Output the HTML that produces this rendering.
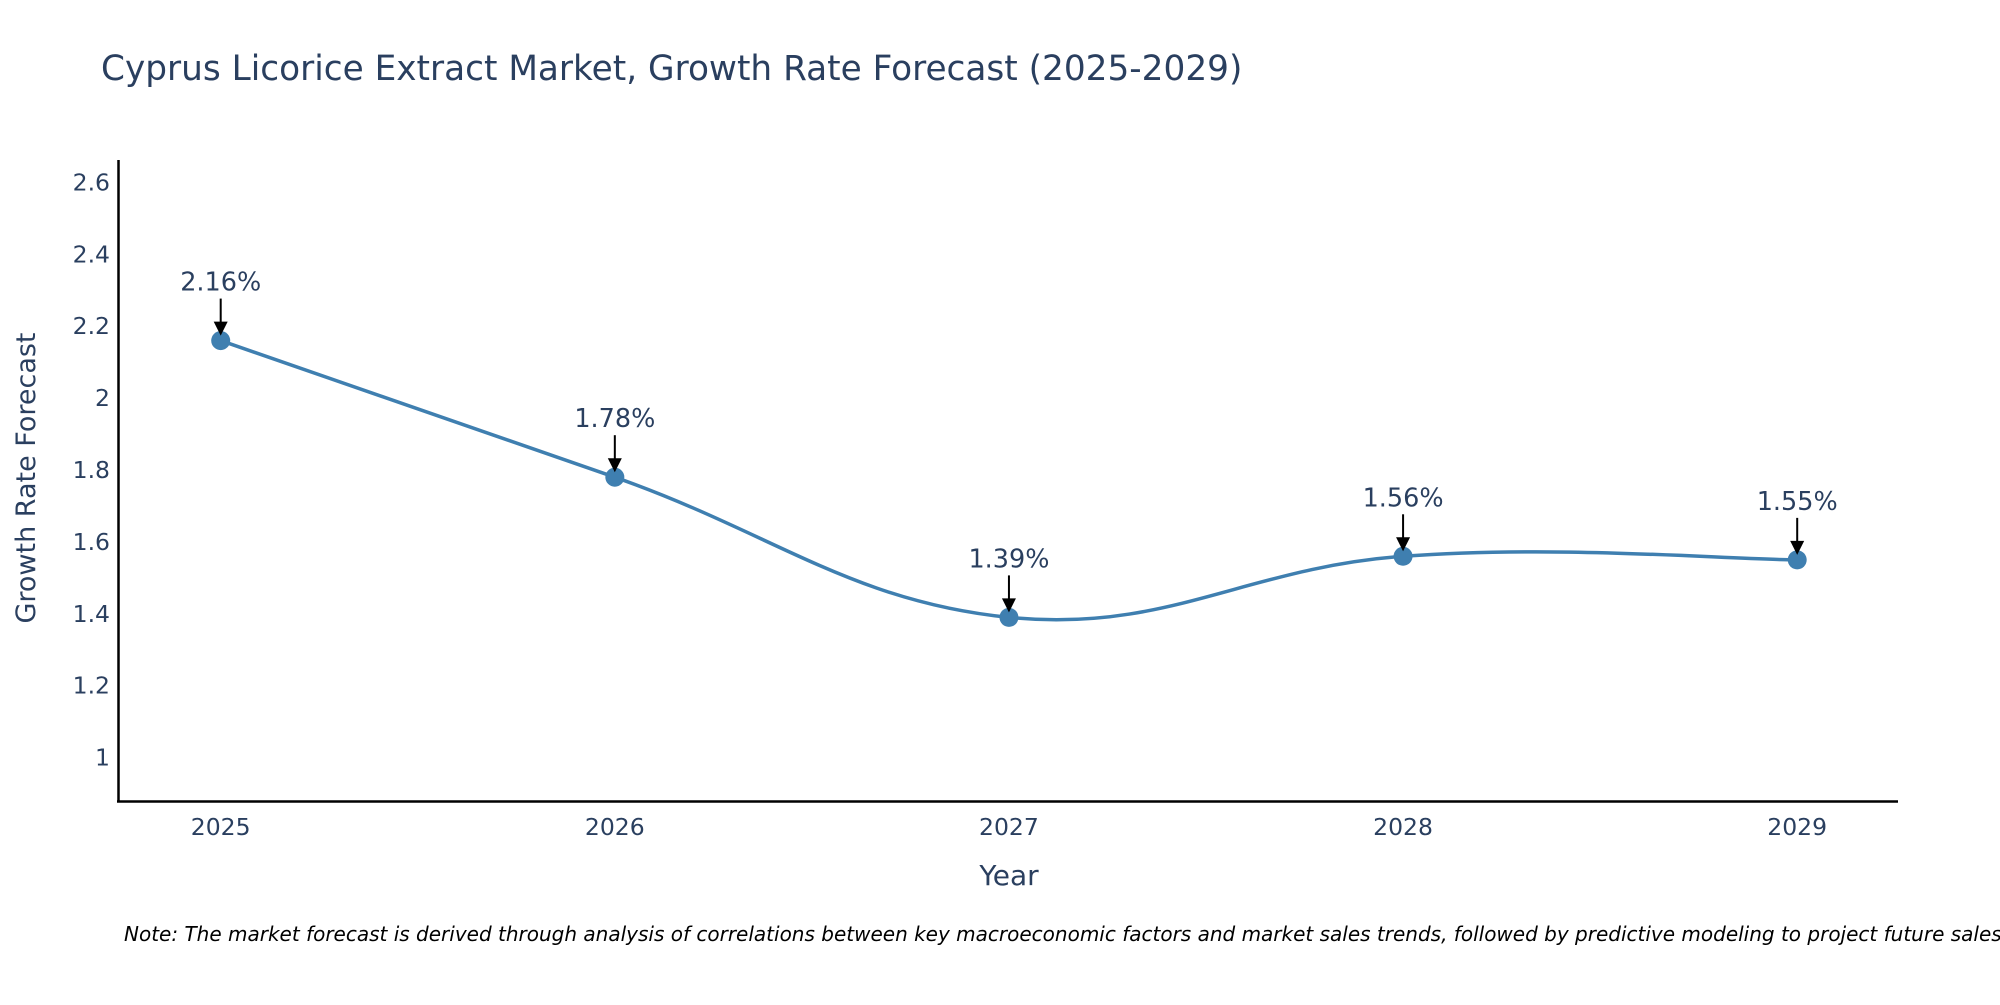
<!DOCTYPE html>
<html><head><meta charset="utf-8"><style>
body{margin:0;background:#fff;}
svg{font-family:"DejaVu Sans","Liberation Sans",sans-serif;}
</style></head><body>
<svg id="chart" width="2000" height="1000" viewBox="0 0 2000 1000">
<text x="101" y="80" font-size="34.3" fill="#2a3f5f">Cyprus Licorice Extract Market, Growth Rate Forecast (2025-2029)</text>
<g id="yticks"></g>
<g id="xticks"></g>
<line x1="118.5" y1="160" x2="118.5" y2="802" stroke="#000" stroke-width="2.5"/>
<line x1="117" y1="801.5" x2="1898" y2="801.5" stroke="#000" stroke-width="2.5"/>
<g id="series"></g>
<g id="annots"></g>
<text x="1009" y="885" font-size="28" fill="#2a3f5f" text-anchor="middle">Year</text>
<text transform="translate(35,478) rotate(-90)" font-size="27" fill="#2a3f5f" text-anchor="middle">Growth Rate Forecast</text>
<text x="124" y="941" font-size="20" font-style="italic" fill="#000">Note: The market forecast is derived through analysis of correlations between key macroeconomic factors and market sales trends, followed by predictive modeling to project future sales.</text>
</svg>
<script>
const years = ["2025","2026","2027","2028","2029"];
const growth = [2.16, 1.78, 1.39, 1.56, 1.55];
const yTicks = [1, 1.2, 1.4, 1.6, 1.8, 2, 2.2, 2.4, 2.6];
const yTickLabels = ["1","1.2","1.4","1.6","1.8","2","2.2","2.4","2.6"];

const NS="http://www.w3.org/2000/svg";
function xS(i){return 220.7 + i*(1797.2-220.7)/4;}
function yS(v){return 757.6 - (v-1)*(757.6-182.4)/1.6;}
function mk(tag,attrs,parent){const e=document.createElementNS(NS,tag);for(const k in attrs)e.setAttribute(k,attrs[k]);parent.appendChild(e);return e;}

const yt=document.getElementById('yticks');
yTicks.forEach((v,i)=>{
  const t=mk('text',{x:110,y:yS(v)+8,'font-size':23.5,fill:'#2a3f5f','text-anchor':'end'},yt);
  t.textContent=yTickLabels[i];
  
  
});
const xt=document.getElementById('xticks');
years.forEach((y,i)=>{
  const t=mk('text',{x:xS(i),y:835,'font-size':23.5,fill:'#2a3f5f','text-anchor':'middle'},xt);
  t.textContent=y;
  
  
});

const pts=growth.map((v,i)=>[xS(i),yS(v)]);
let d=`M${pts[0][0]},${pts[0][1]}`;
const s=0.2;
for(let i=0;i<pts.length-1;i++){
  const p0=pts[Math.max(0,i-1)],p1=pts[i],p2=pts[i+1],p3=pts[Math.min(pts.length-1,i+2)];
  const c1=[p1[0]+(p2[0]-p0[0])*s,p1[1]+(p2[1]-p0[1])*s];
  const c2=[p2[0]-(p3[0]-p1[0])*s,p2[1]-(p3[1]-p1[1])*s];
  d+=` C${c1[0]},${c1[1]} ${c2[0]},${c2[1]} ${p2[0]},${p2[1]}`;
}
const ser=document.getElementById('series');
const line=mk('path',{d:d,fill:'none',stroke:'#3f7fb0','stroke-width':3.5},ser);


pts.forEach(p=>{
  const c=mk('circle',{cx:p[0],cy:p[1],r:9.5,fill:'#3f7fb0'},ser);
  
  
});
const an=document.getElementById('annots');
pts.forEach((p,i)=>{
  const l=mk('line',{x1:p[0],y1:p[1]-42,x2:p[0],y2:p[1]-16,stroke:'#000','stroke-width':2},an);
  
  
  const h=mk('polygon',{points:`${p[0]-7},${p[1]-19} ${p[0]+7},${p[1]-19} ${p[0]},${p[1]-5}`,fill:'#000'},an);
  
  
  const t=mk('text',{x:p[0],y:p[1]-50,'font-size':25.5,fill:'#2a3f5f','text-anchor':'middle'},an);
  t.textContent=growth[i].toFixed(2)+'%';
  
  
});
</script>
</body></html>
